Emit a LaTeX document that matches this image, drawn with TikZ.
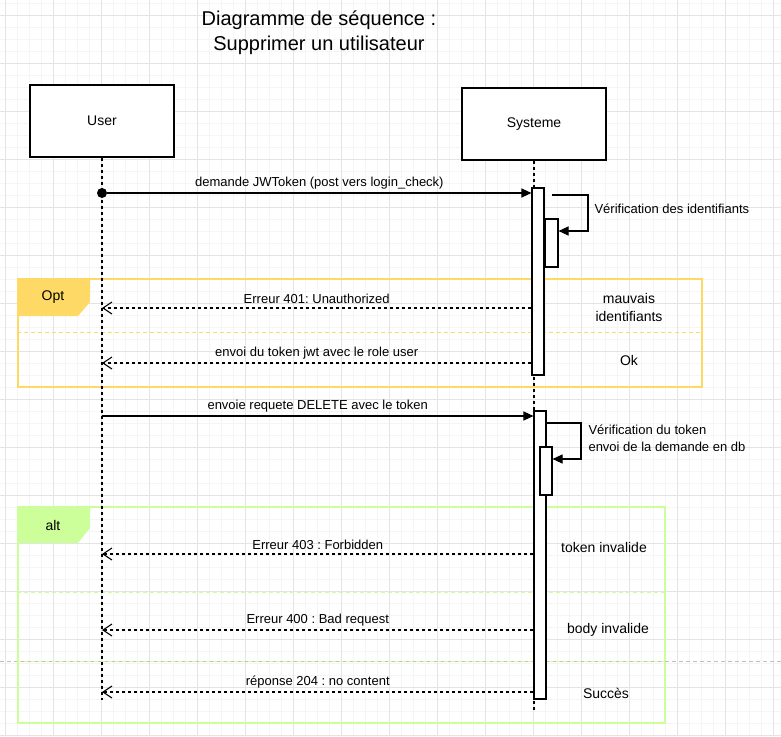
\documentclass[tikz,border=0pt]{standalone}
\usepackage{fontspec}
\setmainfont{Liberation Sans}
\usetikzlibrary{arrows.meta,calc}
\definecolor{optc}{HTML}{FFD966}
\definecolor{altc}{HTML}{CCFF99}
\definecolor{gridmaj}{HTML}{E4E4E4}
\definecolor{gridmin}{HTML}{F5F5F5}
\tikzset{
  actor/.style={draw, line width=1.1pt, fill=white, minimum width=144pt, minimum height=72pt, font=\fontsize{14}{17}\selectfont, inner sep=0pt},
  bar/.style={draw, line width=1.1pt, fill=white, minimum width=12pt, inner sep=0pt},
  life/.style={line width=1.1pt, dash pattern=on 3pt off 3pt},
  msg/.style={line width=1.1pt, -{Triangle[length=10pt,width=9pt]}},
  ret/.style={line width=1.1pt, dash pattern=on 3pt off 3pt, -{Straight Barb[length=9pt,width=12pt,line width=1.1pt]}},
  lbl/.style={font=\fontsize{13}{17}\selectfont},
  side/.style={font=\fontsize{14}{18}\selectfont, align=center},
  frame/.style={line width=1.1pt, inner sep=0pt},
}
\frenchspacing
\begin{document}
\begin{tikzpicture}[x=1pt,y=-1pt]
\useasboundingbox (0,0) rectangle (781,736);
\fill[white] (0,0) rectangle (781,736);
% grid
\foreach \x in {5,17,...,781} \draw[gridmin, line width=0.8pt] (\x,0) -- (\x,736);
\foreach \y in {3,15,...,736} \draw[gridmin, line width=0.8pt] (0,\y) -- (781,\y);
\foreach \x in {5,53,...,781} \draw[gridmaj, line width=1pt] (\x,0) -- (\x,736);
\foreach \y in {15,63,...,736} \draw[gridmaj, line width=1pt] (0,\y) -- (781,\y);

% title
\node[font=\fontsize{20}{25}\selectfont, align=center] (title) at (319,33) {Diagramme de séquence :\\Supprimer un utilisateur};

% frames (behind)
\node[frame, draw=optc, minimum width=684pt, minimum height=108pt] (opt) at (360,333) {};
\fill[optc] (opt.north west) -- (90,279) -- (90,302) -- (78,316) -- (18,316) -- cycle;
\node[font=\fontsize{14}{17}\selectfont] (optlbl) at (53,297) {Opt};
\draw[optc, line width=1pt, dash pattern=on 4pt off 3pt] (opt.west |- 0,332) -- (opt.east |- 0,332);

\node[frame, draw=altc, minimum width=647pt, minimum height=216pt] (alt) at (341.5,615) {};
\fill[altc] (alt.north west) -- (90,507) -- (90,528) -- (78,543) -- (18,543) -- cycle;
\node[font=\fontsize{14}{17}\selectfont] (altlbl) at (53,525) {alt};
\draw[altc, line width=1pt, dash pattern=on 4pt off 3pt] (alt.west |- 0,592) -- (alt.east |- 0,592);
\coordinate (gl) at (0,661);
\coordinate (gr) at (781,661);
\draw[black!25, line width=1pt, dash pattern=on 4pt off 3pt] (gl) -- (gr);
\draw[altc, line width=1pt, dash pattern=on 4pt off 3pt] (alt.west |- gl) -- (alt.east |- gl);

% actors and lifelines
\node[actor] (user) at (102,121) {User};
\node[actor] (sys) at (534,124) {Systeme};
\coordinate (uend) at (102,700);
\coordinate (send) at (534,712);
\draw[life] (user.south) -- (uend);
\draw[life] (sys.south) -- (send);

% activation bars
\node[bar, minimum height=187pt] (b1) at (538,281.5) {};
\node[bar, minimum width=13pt, minimum height=48pt] (i1) at (551.5,243) {};
\node[bar, minimum height=288pt] (b2) at (540,555) {};
\node[bar, minimum height=48pt] (i2) at (546,471) {};

% message 1
\node[circle, fill=black, inner sep=0pt, minimum size=10pt] (dot) at (102,193) {};
\draw[msg] (dot) -- node[lbl, above] {demande JWToken (post vers login\_check)} (b1.west |- dot);

% self call 1
\coordinate (s1a) at (552,195);
\coordinate (s1b) at (588,231);
\draw[msg] (s1a) -| (s1b) -- (i1.east |- s1b);
\node[lbl, anchor=west] (v1) at (591,209) {Vérification des identifiants};

% opt returns
\coordinate (r1) at (102,308);
\coordinate (r2) at (102,363);
\draw[ret] (b1.west |- r1) -- node[lbl, above] {Erreur 401: Unauthorized} (r1);
\draw[ret] (b1.west |- r2) -- node[lbl, above] {envoi du token jwt avec le role user} (r2);
\node[side] (mi) at (629,307) {mauvais\\identifiants};
\node[side] (ok) at (629,360) {Ok};

% message 2
\coordinate (m2) at (102,416);
\draw[msg] (m2) -- node[lbl, above] {envoie requete DELETE avec le token} (b2.west |- m2);

% self call 2
\coordinate (s2b) at (581,459);
\draw[msg] (b2.east |- 0,423) -| (s2b) -- (i2.east |- s2b);
\node[lbl, anchor=west, align=left] (v2) at (585,438.5) {Vérification du token\\envoi de la demande en db};

% alt returns
\coordinate (r3) at (102,554);
\coordinate (r4) at (102,630);
\coordinate (r5) at (102,692);
\draw[ret] (b2.west |- r3) -- node[lbl, above] {Erreur 403 : Forbidden} (r3);
\draw[ret] (b2.west |- r4) -- node[lbl, above] {Erreur 400 : Bad request} (r4);
\draw[ret] (b2.west |- r5) -- node[lbl, above] {réponse 204 : no content} (r5);
\node[side] (ti) at (604,547) {token invalide};
\node[side] (bi) at (608,630) {body invalide};
\node[side] (su) at (606,693) {Succès};
\end{tikzpicture}
\end{document}
